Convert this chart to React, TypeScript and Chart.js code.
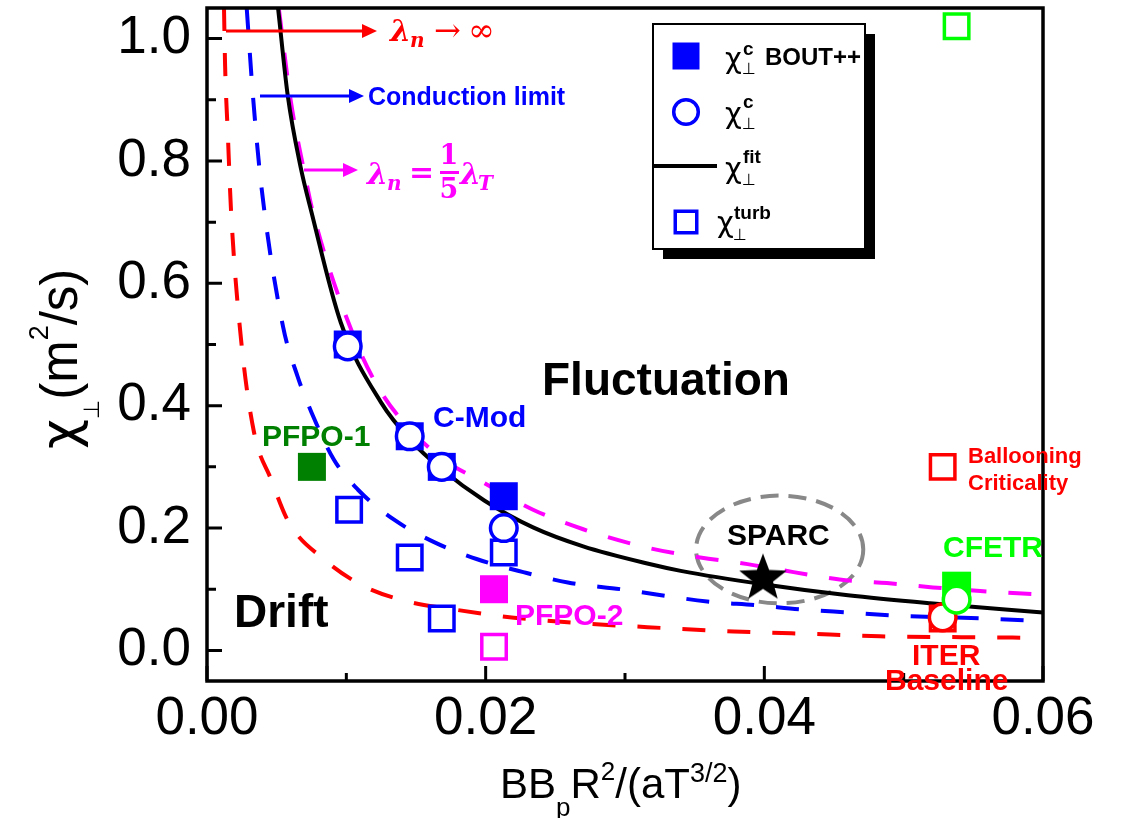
import React, { useEffect, useRef } from "react";
import { Chart, registerables } from "chart.js";

Chart.register(...registerables);

// ---------- axes ----------
const X_MIN = 0;
const X_MAX = 0.06;
const Y_MIN = -0.05;
const Y_MAX = 1.05;
const xTickValues = [0, 0.02, 0.04, 0.06];
const xMinorTickValues = [0.01, 0.03, 0.05];
const yTickValues = [0, 0.2, 0.4, 0.6, 0.8, 1.0];
const yMinorTickValues = [0.1, 0.3, 0.5, 0.7, 0.9];

// ---------- curves ----------
// red dashed: lambda_n -> infinity
const infX = [0.00122, 0.0013, 0.0015, 0.00172, 0.00244, 0.00337, 0.00459, 0.00588, 0.00839, 0.01125, 0.01441, 0.01771, 0.02108, 0.02588, 0.03161, 0.0378, 0.0447, 0.0483, 0.0578, 0.06];
const infY = [1.05, 0.955, 0.841, 0.721, 0.509, 0.357, 0.28, 0.209, 0.149, 0.105, 0.08, 0.067, 0.056, 0.046, 0.038, 0.031, 0.026, 0.023, 0.021, 0.02];
// blue dashed: conduction limit
const condX = [0.00285, 0.0033, 0.0039, 0.00545, 0.0065, 0.0075, 0.0091, 0.01082, 0.0134, 0.0163, 0.0194, 0.0227, 0.0259, 0.0297, 0.0359, 0.0394, 0.0427, 0.046, 0.0494, 0.056, 0.06];
const condY = [1.05, 0.906, 0.759, 0.53, 0.448, 0.389, 0.312, 0.263, 0.214, 0.177, 0.149, 0.128, 0.111, 0.1, 0.08, 0.074, 0.067, 0.062, 0.057, 0.052, 0.048];
// magenta dashed: lambda_n = lambda_T / 5
const fifthX = [0.00515, 0.006, 0.007, 0.0076, 0.0107, 0.0125, 0.0148, 0.0173, 0.0194, 0.0234, 0.027, 0.0316, 0.0354, 0.0388, 0.0421, 0.0454, 0.0488, 0.0521, 0.0555, 0.06];
const fifthY = [1.05, 0.9, 0.78, 0.716, 0.504, 0.422, 0.356, 0.307, 0.28, 0.23, 0.198, 0.168, 0.152, 0.141, 0.128, 0.116, 0.11, 0.103, 0.097, 0.091];
// black solid: chi fit
const fitX = [0.0051, 0.0058, 0.0067, 0.0075, 0.0096, 0.0125, 0.01455, 0.01685, 0.0199, 0.0234, 0.027, 0.0316, 0.034, 0.0399, 0.046, 0.0519, 0.06];
const fitY = [1.05, 0.906, 0.792, 0.716, 0.536, 0.405, 0.345, 0.296, 0.245, 0.201, 0.17, 0.142, 0.13, 0.108, 0.09, 0.077, 0.062];

// ---------- markers ----------
const boutX = [0.0101, 0.01455, 0.01685, 0.0213];
const boutY = [0.5, 0.35, 0.3, 0.252];
const chiCX = [0.0101, 0.01455, 0.01685, 0.0213];
const chiCY = [0.497, 0.35, 0.3, 0.2];
const turbX = [0.0102, 0.01455, 0.01685, 0.0213];
const turbY = [0.23, 0.152, 0.052, 0.16];
const pfpo1X = [0.00753];
const pfpo1Y = [0.3];
const pfpo2FilledX = [0.0206];
const pfpo2FilledY = [0.1];
const pfpo2OpenX = [0.0206];
const pfpo2OpenY = [0.006];
const cfetrFilledX = [0.0538];
const cfetrFilledY = [0.105];
const cfetrCircleX = [0.0538];
const cfetrCircleY = [0.083];
const cfetrOpenX = [0.0538];
const cfetrOpenY = [1.02];
const iterCircleX = [0.0528];
const iterCircleY = [0.054];
const redOpenX = [0.0528, 0.0528];
const redOpenY = [0.052, 0.3];
const sparcX = [0.0399];
const sparcY = [0.121];

const SPARC_ELLIPSE_CX = 0.0411;
const SPARC_ELLIPSE_CY = 0.165;
const SPARC_ELLIPSE_RX = 0.006;
const SPARC_ELLIPSE_RY = 0.088;

const SANS = '"Liberation Sans", Arial, Helvetica, sans-serif';
const GREEK = '"DejaVu Sans", "Liberation Sans", sans-serif';
const SERIF = '"DejaVu Serif", "Liberation Serif", serif';

const BLUE = "#0000ff";
const RED = "#ff0000";
const MAGENTA = "#ff00ff";
const DKGREEN = "#008000";
const LIME = "#00ff00";

const zip = (xs: number[], ys: number[]) => xs.map((x, i) => ({ x, y: ys[i] }));

function makeStar(): HTMLCanvasElement {
  const c = document.createElement("canvas");
  c.width = 54;
  c.height = 54;
  const g = c.getContext("2d")!;
  g.fillStyle = "#000";
  g.beginPath();
  const cx = 27, cy = 29, R = 25, r = 10.5;
  for (let i = 0; i < 10; i++) {
    const a = -Math.PI / 2 + (i * Math.PI) / 5;
    const rad = i % 2 === 0 ? R : r;
    const px = cx + rad * Math.cos(a);
    const py = cy + rad * Math.sin(a);
    if (i === 0) g.moveTo(px, py);
    else g.lineTo(px, py);
  }
  g.closePath();
  g.fill();
  return c;
}

type Run = { t: string; font: string; dy?: number };
function drawRuns(ctx: CanvasRenderingContext2D, x: number, y: number, runs: Run[]) {
  let cx = x;
  for (const r of runs) {
    ctx.font = r.font;
    ctx.fillText(r.t, cx, y + (r.dy || 0));
    cx += ctx.measureText(r.t).width;
  }
}

function arrow(ctx: CanvasRenderingContext2D, x1: number, y: number, x2: number, color: string) {
  ctx.save();
  ctx.strokeStyle = color;
  ctx.fillStyle = color;
  ctx.lineWidth = 3;
  ctx.beginPath();
  ctx.moveTo(x1, y);
  ctx.lineTo(x2 - 12, y);
  ctx.stroke();
  ctx.beginPath();
  ctx.moveTo(x2, y);
  ctx.lineTo(x2 - 15, y - 7);
  ctx.lineTo(x2 - 15, y + 7);
  ctx.closePath();
  ctx.fill();
  ctx.restore();
}

const ellipsePlugin = {
  id: "sparcEllipse",
  beforeDatasetsDraw(chart: any) {
    const { ctx, scales } = chart;
    const xs = scales.x, ys = scales.y;
    const cx = xs.getPixelForValue(SPARC_ELLIPSE_CX);
    const cy = ys.getPixelForValue(SPARC_ELLIPSE_CY);
    const rx = Math.abs(xs.getPixelForValue(SPARC_ELLIPSE_CX + SPARC_ELLIPSE_RX) - cx);
    const ry = Math.abs(ys.getPixelForValue(SPARC_ELLIPSE_CY + SPARC_ELLIPSE_RY) - cy);
    ctx.save();
    ctx.strokeStyle = "#888888";
    ctx.lineWidth = 4;
    ctx.setLineDash([18, 10]);
    ctx.beginPath();
    ctx.ellipse(cx, cy, rx, ry, 0, 0, Math.PI * 2);
    ctx.stroke();
    ctx.restore();
  },
};

const framePlugin = {
  id: "frame",
  afterDatasetsDraw(chart: any) {
    const { ctx, chartArea: a, scales } = chart;
    ctx.save();
    ctx.strokeStyle = "#000";
    ctx.lineWidth = 3.5;
    ctx.strokeRect(a.left, a.top, a.right - a.left, a.bottom - a.top);
    ctx.lineWidth = 3;
    ctx.beginPath();
    for (const v of yTickValues) {
      const y = scales.y.getPixelForValue(v);
      ctx.moveTo(a.left, y);
      ctx.lineTo(a.left + 15, y);
    }
    for (const v of yMinorTickValues) {
      const y = scales.y.getPixelForValue(v);
      ctx.moveTo(a.left, y);
      ctx.lineTo(a.left + 9, y);
    }
    for (const v of xTickValues) {
      const x = scales.x.getPixelForValue(v);
      ctx.moveTo(x, a.bottom);
      ctx.lineTo(x, a.bottom - 15);
    }
    for (const v of xMinorTickValues) {
      const x = scales.x.getPixelForValue(v);
      ctx.moveTo(x, a.bottom);
      ctx.lineTo(x, a.bottom - 8);
    }
    ctx.stroke();
    ctx.restore();
  },
};

const textPlugin = {
  id: "texts",
  afterDraw(chart: any) {
    const ctx: CanvasRenderingContext2D = chart.ctx;
    ctx.save();
    ctx.textAlign = "left";
    ctx.textBaseline = "alphabetic";

    const label = (t: string, x: number, y: number, size: number, color: string) => {
      ctx.font = `bold ${size}px ${SANS}`;
      ctx.fillStyle = color;
      ctx.fillText(t, x, y);
    };
    label("Fluctuation", 542, 395, 46, "#000");
    label("Drift", 234, 627, 46, "#000");
    label("C-Mod", 433, 427, 30, BLUE);
    label("PFPO-1", 262, 446, 30, DKGREEN);
    label("PFPO-2", 515, 625, 30, MAGENTA);
    label("SPARC", 727, 545, 30, "#000");
    label("CFETR", 943, 557, 30, LIME);
    label("ITER", 912, 665, 30, RED);
    label("Baseline", 885, 690, 30, RED);
    label("Ballooning", 968, 463, 22, RED);
    label("Criticality", 968, 490, 22, RED);
    label("Conduction limit", 368, 105, 25, BLUE);

    // arrows
    arrow(ctx, 226, 31, 377, RED);
    arrow(ctx, 260, 96, 364, BLUE);
    arrow(ctx, 304, 170, 358, MAGENTA);

    // lambda_n -> infinity
    ctx.fillStyle = RED;
    ctx.font = `italic bold 30px ${SERIF}`;
    ctx.fillText("λ", 390, 41);
    ctx.font = `italic bold 20px ${SERIF}`;
    ctx.fillText("n", 410, 47);
    ctx.font = `32px ${SERIF}`;
    ctx.fillText("→", 434, 41);
    ctx.fillText("∞", 468, 41);

    // lambda_n = 1/5 lambda_T
    ctx.fillStyle = MAGENTA;
    ctx.font = `italic bold 30px ${SERIF}`;
    ctx.fillText("λ", 367, 184);
    ctx.font = `italic bold 20px ${SERIF}`;
    ctx.fillText("n", 387, 190);
    ctx.font = `bold 30px ${SERIF}`;
    ctx.fillText("=", 409, 182);
    ctx.textAlign = "center";
    ctx.font = `bold 27px ${SERIF}`;
    ctx.fillText("1", 449, 164);
    ctx.fillText("5", 449, 198);
    ctx.fillRect(440, 171, 19, 3);
    ctx.textAlign = "left";
    ctx.font = `italic bold 30px ${SERIF}`;
    ctx.fillText("λ", 460, 184);
    ctx.font = `italic bold 20px ${SERIF}`;
    ctx.fillText("T", 478, 190);

    // legend
    ctx.fillStyle = "#000";
    ctx.fillRect(663, 34, 212, 225);
    ctx.fillStyle = "#fff";
    ctx.fillRect(653, 24, 212, 225);
    ctx.strokeStyle = "#000";
    ctx.lineWidth = 2;
    ctx.strokeRect(653, 24, 212, 225);
    ctx.fillStyle = BLUE;
    ctx.fillRect(686 - 13.5, 56 - 13.5, 27, 27);
    ctx.strokeStyle = BLUE;
    ctx.lineWidth = 3.5;
    ctx.fillStyle = "#fff";
    ctx.beginPath();
    ctx.arc(686, 112, 12.3, 0, Math.PI * 2);
    ctx.fill();
    ctx.stroke();
    ctx.strokeRect(686 - 10.75, 222 - 10.75, 21.5, 21.5);
    ctx.strokeStyle = "#000";
    ctx.lineWidth = 4;
    ctx.beginPath();
    ctx.moveTo(653, 166);
    ctx.lineTo(717, 166);
    ctx.stroke();

    ctx.fillStyle = "#000";
    const chiEntry = (x: number, yChi: number, sup: string, ySup: number, ySub: number, xs: number) => {
      ctx.font = `29px ${GREEK}`;
      ctx.fillText("χ", x, yChi);
      ctx.font = `bold 19px ${SANS}`;
      ctx.fillText(sup, xs, ySup);
      ctx.font = `16px ${GREEK}`;
      ctx.fillText("⊥", xs - 1, ySub);
    };
    chiEntry(725, 68, "c", 55, 74, 743);
    ctx.font = `bold 24px ${SANS}`;
    ctx.fillText("BOUT++", 765, 65);
    chiEntry(725, 123, "c", 108, 129, 743);
    chiEntry(725, 178, "fit", 163, 185, 743);
    chiEntry(717, 232, "turb", 219, 240, 734);

    // x-axis title
    ctx.fillStyle = "#000";
    drawRuns(ctx, 500, 798, [
      { t: "BB", font: `42px ${SANS}` },
      { t: "p", font: `26px ${SANS}`, dy: 18 },
      { t: "R", font: `42px ${SANS}` },
      { t: "2", font: `26px ${SANS}`, dy: -18 },
      { t: "/(aT", font: `42px ${SANS}` },
      { t: "3/2", font: `27px ${SANS}`, dy: -16 },
      { t: ")", font: `42px ${SANS}` },
    ]);

    // y-axis title (rotated)
    ctx.save();
    ctx.translate(77, 449);
    ctx.rotate(-Math.PI / 2);
    drawRuns(ctx, 0, 0, [
      { t: "χ", font: `52px ${GREEK}` },
      { t: "⊥", font: `22px ${GREEK}`, dy: 22 },
      { t: "(m", font: `51px ${SANS}` },
      { t: "2", font: `27px ${SANS}`, dy: -29 },
      { t: "/s)", font: `51px ${SANS}` },
    ]);
    ctx.restore();

    ctx.restore();
  },
};

export default function App() {
  const ref = useRef<HTMLCanvasElement>(null);

  useEffect(() => {
    const canvas = ref.current!;
    const star = makeStar();

    const curve = (xs: number[], ys: number[], color: string, dash: number[]) => ({
      type: "scatter" as const,
      data: zip(xs, ys),
      showLine: true,
      borderColor: color,
      backgroundColor: color,
      borderWidth: 4,
      borderDash: dash,
      pointRadius: 0,
      cubicInterpolationMode: "monotone" as const,
      fill: false,
      order: 10,
    });
    const marker = (xs: number[], ys: number[], style: any, r: number, fillC: string, borderC: string, bw: number, order: number) => ({
      type: "scatter" as const,
      data: zip(xs, ys),
      pointStyle: style,
      pointRadius: r,
      backgroundColor: fillC,
      borderColor: borderC,
      borderWidth: bw,
      showLine: false,
      order,
    });

    const chart = new Chart(canvas, {
      type: "scatter",
      data: {
        datasets: [
          curve(infX, infY, RED, [23, 22]),
          curve(condX, condY, BLUE, [23, 22]),
          curve(fitX, fitY, "#000", []),
          curve(fifthX, fifthY, MAGENTA, [23, 22]),
          marker(boutX, boutY, "rect", 19.8, BLUE, BLUE, 0, 5),
          marker(turbX, turbY, "rect", 17.3, "#fff", BLUE, 3.5, 4),
          marker(chiCX, chiCY, "circle", 13.3, "#fff", BLUE, 3.5, 3),
          marker(pfpo1X, pfpo1Y, "rect", 19.8, DKGREEN, DKGREEN, 0, 5),
          marker(pfpo2FilledX, pfpo2FilledY, "rect", 19.8, MAGENTA, MAGENTA, 0, 5),
          marker(pfpo2OpenX, pfpo2OpenY, "rect", 17.3, "#fff", MAGENTA, 3.5, 4),
          marker(cfetrFilledX, cfetrFilledY, "rect", 20.5, LIME, LIME, 0, 5),
          marker(cfetrCircleX, cfetrCircleY, "circle", 13.3, "#fff", LIME, 3.5, 3),
          marker(cfetrOpenX, cfetrOpenY, "rect", 17.3, "#fff", LIME, 3.5, 4),
          marker(redOpenX, redOpenY, "rect", 17.3, "#fff", RED, 3.5, 4),
          marker(iterCircleX, iterCircleY, "circle", 13.3, "#fff", RED, 3.5, 3),
          marker(sparcX, sparcY, star, 25, "#000", "#000", 0, 1),
        ],
      },
      options: {
        animation: false,
        responsive: true,
        maintainAspectRatio: false,
        devicePixelRatio: 1,
        events: [],
        layout: { autoPadding: false, padding: { top: 8, right: 79, bottom: 0, left: 0 } },
        plugins: { legend: { display: false }, tooltip: { enabled: false } },
        scales: {
          x: {
            type: "linear",
            min: X_MIN,
            max: X_MAX,
            grid: { display: false, drawTicks: false },
            border: { display: false },
            afterBuildTicks: (s: any) => {
              s.ticks = xTickValues.map((v) => ({ value: v }));
            },
            afterFit: (s: any) => {
              s.height = 137;
              s.paddingLeft = 0;
              s.paddingRight = 0;
            },
            ticks: {
              autoSkip: false,
              maxRotation: 0,
              padding: 7,
              color: "#000",
              font: { family: SANS, size: 53 },
              callback: (v: any) => Number(v).toFixed(2),
            },
          },
          y: {
            type: "linear",
            min: Y_MIN,
            max: Y_MAX,
            grid: { display: false, drawTicks: false },
            border: { display: false },
            afterBuildTicks: (s: any) => {
              s.ticks = yTickValues.map((v) => ({ value: v }));
            },
            afterFit: (s: any) => {
              s.width = 207;
              s.paddingTop = 0;
              s.paddingBottom = 0;
            },
            ticks: {
              autoSkip: false,
              padding: 16,
              color: "#000",
              font: { family: SANS, size: 53 },
              callback: (v: any) => Number(v).toFixed(1),
            },
          },
        },
      },
      plugins: [ellipsePlugin, framePlugin, textPlugin],
    } as any);

    return () => chart.destroy();
  }, []);

  return (
    <div style={{ position: "absolute", left: 0, top: 0, width: 1122, height: 818, background: "#fff" }}>
      <canvas ref={ref} />
    </div>
  );
}
